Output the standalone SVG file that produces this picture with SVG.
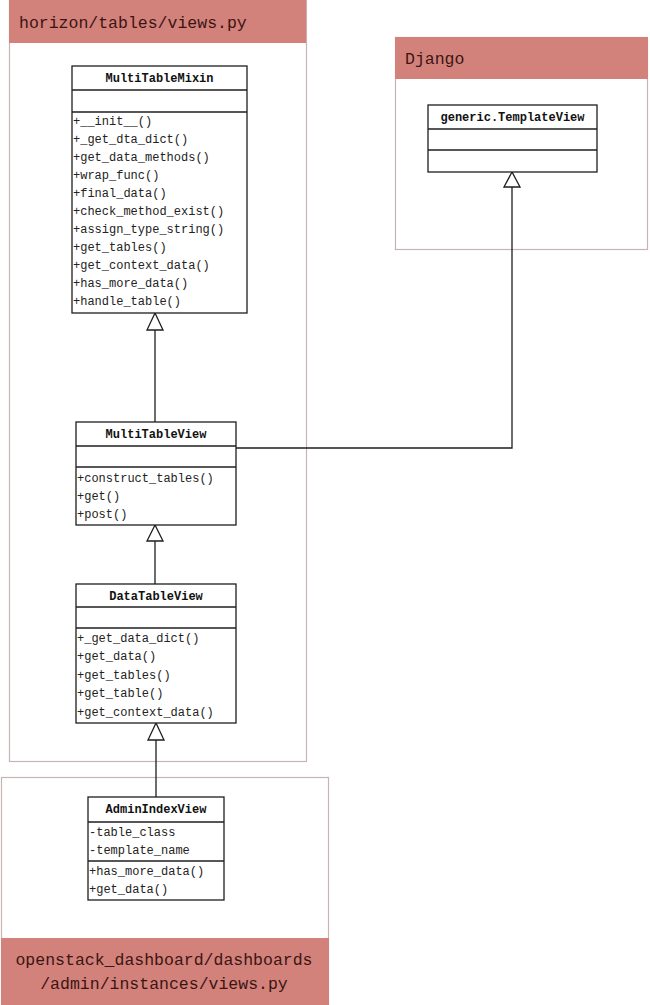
<svg xmlns="http://www.w3.org/2000/svg" width="650" height="1005" viewBox="0 0 650 1005">
<style>
.pkg{fill:#ffffff;stroke:#c9b3b2;stroke-width:1.2}
.hdr{fill:#d3817b;stroke:none}
.htxt{font-family:"Liberation Mono","DejaVu Sans Mono",monospace;font-size:16.5px;fill:#3a1512}
.box{fill:#ffffff;stroke:#1e1e1e;stroke-width:1.3}
.sep{stroke:#1e1e1e;stroke-width:1.3}
.title{font-family:"Liberation Mono","DejaVu Sans Mono",monospace;font-size:12px;font-weight:bold;fill:#111;text-anchor:middle}
.m{font-family:"Liberation Mono","DejaVu Sans Mono",monospace;font-size:12px;fill:#222}
.edge{fill:none;stroke:#1e1e1e;stroke-width:1.3}
.tri{fill:#ffffff;stroke:#1e1e1e;stroke-width:1.3}
</style>
<rect width="650" height="1005" fill="#ffffff"/>

<g id="pkg-horizon">
<rect class="pkg" x="9.5" y="0.5" width="297" height="761"/>
<rect class="hdr" x="9" y="0" width="297" height="43"/>
<text class="htxt" x="19" y="28">horizon/tables/views.py</text>
</g>

<g id="pkg-django">
<rect class="pkg" x="395.5" y="37.5" width="252" height="212"/>
<rect class="hdr" x="395" y="37" width="253" height="42"/>
<text class="htxt" x="405" y="64">Django</text>
</g>

<g id="pkg-openstack">
<rect class="pkg" x="1.5" y="777.5" width="327" height="227"/>
<rect class="hdr" x="1" y="938" width="328" height="67"/>
<text class="htxt" x="164" y="965" text-anchor="middle">openstack_dashboard/dashboards</text>
<text class="htxt" x="164" y="989" text-anchor="middle">/admin/instances/views.py</text>
</g>

<g id="connectors">
<line class="edge" x1="155" y1="330" x2="155" y2="422"/>
<polygon class="tri" points="155,313 147,330 163,330"/>
<line class="edge" x1="155" y1="541" x2="155" y2="584"/>
<polygon class="tri" points="155,525 147,541 163,541"/>
<line class="edge" x1="156" y1="740" x2="156" y2="797"/>
<polygon class="tri" points="156,723 148,740 164,740"/>
<polyline class="edge" points="236,448 512,448 512,187"/>
<polygon class="tri" points="512,172 504,187 520,187"/>
</g>

<g id="MultiTableMixin">
<rect class="box" x="72" y="66" width="175" height="247"/>
<line class="sep" x1="72" y1="90" x2="247" y2="90"/>
<line class="sep" x1="72" y1="112" x2="247" y2="112"/>
<text class="title" x="159.5" y="82">MultiTableMixin</text>
<text class="m" x="73" y="125">+__init__()</text>
<text class="m" x="73" y="143">+_get_dta_dict()</text>
<text class="m" x="73" y="161">+get_data_methods()</text>
<text class="m" x="73" y="179">+wrap_func()</text>
<text class="m" x="73" y="197">+final_data()</text>
<text class="m" x="73" y="215">+check_method_exist()</text>
<text class="m" x="73" y="233">+assign_type_string()</text>
<text class="m" x="73" y="251">+get_tables()</text>
<text class="m" x="73" y="269">+get_context_data()</text>
<text class="m" x="73" y="287">+has_more_data()</text>
<text class="m" x="73" y="305">+handle_table()</text>
</g>

<g id="TemplateView">
<rect class="box" x="428" y="105" width="169" height="67"/>
<line class="sep" x1="428" y1="129" x2="597" y2="129"/>
<line class="sep" x1="428" y1="150" x2="597" y2="150"/>
<text class="title" x="512.5" y="121">generic.TemplateView</text>
</g>

<g id="MultiTableView">
<rect class="box" x="76" y="422" width="160" height="103"/>
<line class="sep" x1="76" y1="446" x2="236" y2="446"/>
<line class="sep" x1="76" y1="467" x2="236" y2="467"/>
<text class="title" x="156" y="438">MultiTableView</text>
<text class="m" x="77" y="482">+construct_tables()</text>
<text class="m" x="77" y="500">+get()</text>
<text class="m" x="77" y="518">+post()</text>
</g>

<g id="DataTableView">
<rect class="box" x="76" y="584" width="160" height="139"/>
<line class="sep" x1="76" y1="607" x2="236" y2="607"/>
<line class="sep" x1="76" y1="628" x2="236" y2="628"/>
<text class="title" x="156" y="600">DataTableView</text>
<text class="m" x="77" y="642">+_get_data_dict()</text>
<text class="m" x="77" y="660">+get_data()</text>
<text class="m" x="77" y="679">+get_tables()</text>
<text class="m" x="77" y="697">+get_table()</text>
<text class="m" x="77" y="716">+get_context_data()</text>
</g>

<g id="AdminIndexView">
<rect class="box" x="88" y="797" width="136" height="103"/>
<line class="sep" x1="88" y1="822" x2="224" y2="822"/>
<line class="sep" x1="88" y1="861" x2="224" y2="861"/>
<text class="title" x="156" y="813">AdminIndexView</text>
<text class="m" x="89" y="836">-table_class</text>
<text class="m" x="89" y="854">-template_name</text>
<text class="m" x="89" y="875">+has_more_data()</text>
<text class="m" x="89" y="893">+get_data()</text>
</g>
</svg>
